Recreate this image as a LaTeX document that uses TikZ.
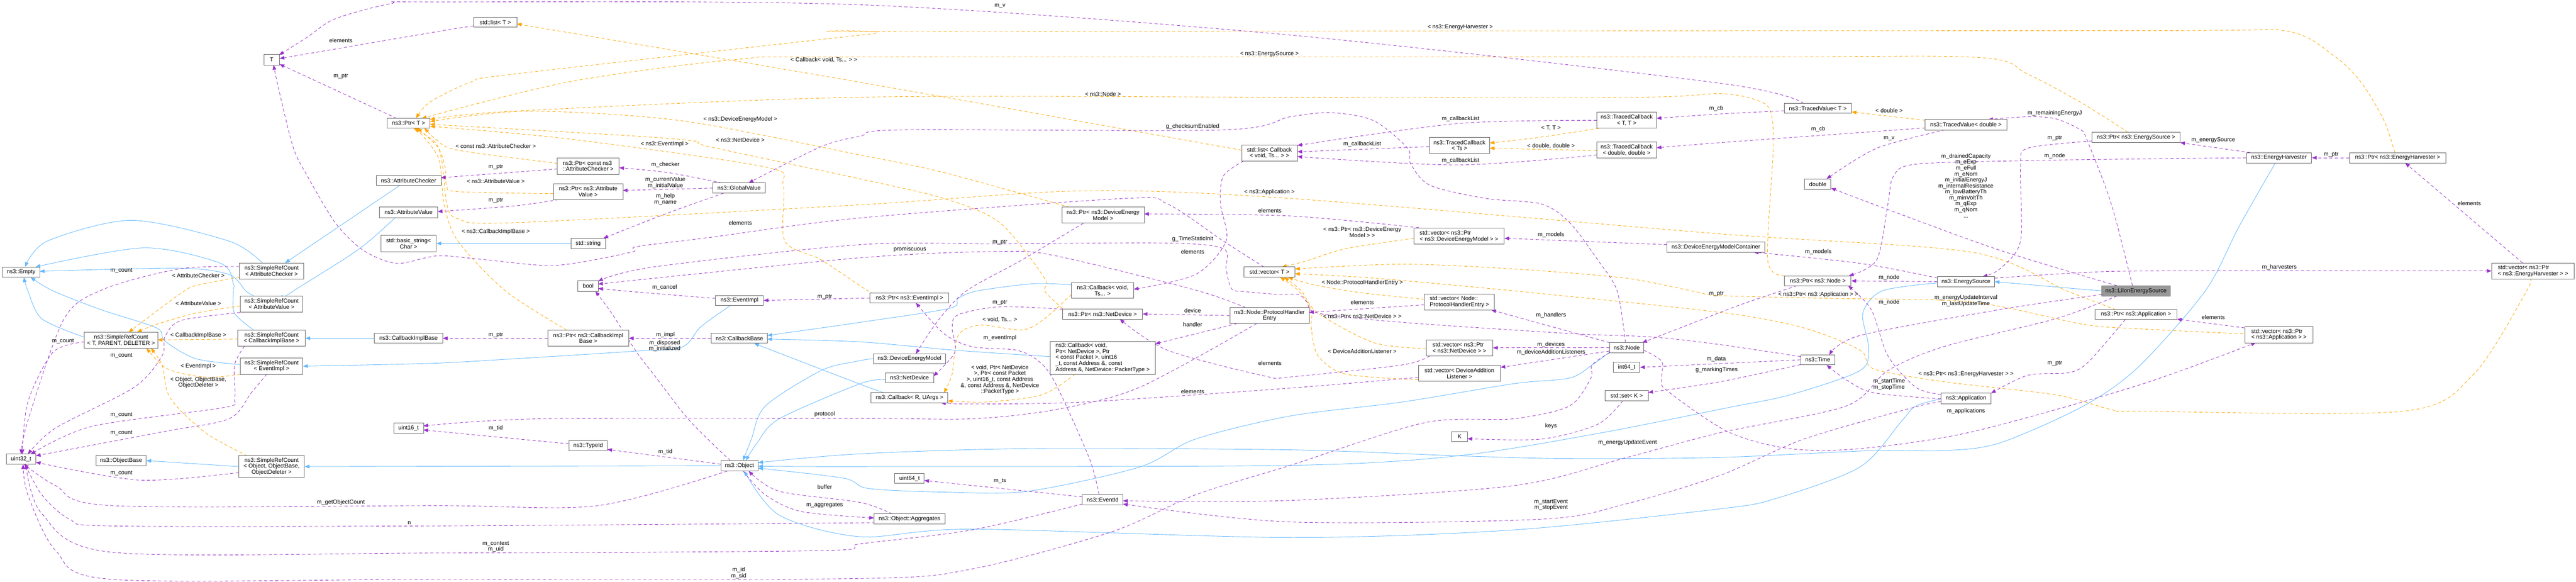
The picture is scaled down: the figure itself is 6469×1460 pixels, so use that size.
\documentclass[tikz,border=0pt]{standalone}
\usepackage{fontspec}
\setmainfont{Liberation Sans}
\usetikzlibrary{arrows.meta,calc}
\definecolor{inh}{HTML}{63B8FF}
\definecolor{usec}{HTML}{9A32CD}
\definecolor{tpl}{HTML}{FFA500}
\definecolor{bord}{HTML}{666666}
\definecolor{hl}{HTML}{999999}
\pgfdeclarelayer{bg}
\pgfsetlayers{bg,main}
\newcommand{\fs}{\fontsize{7.2}{7.5}\selectfont}
\tikzset{
 cls/.style={draw=bord, line width=0.6pt, fill=white, inner sep=0.5pt, font=\fs, align=center},
 lft/.style={align=left},
 inhE/.style={draw=inh, line width=0.55pt, -{Triangle[length=6pt,width=4.6pt]}},
 useE/.style={draw=usec, line width=0.55pt, dash pattern=on 4pt off 3pt, -{Triangle[length=6pt,width=4.6pt]}},
 tplE/.style={draw=tpl, line width=0.55pt, dash pattern=on 4pt off 3pt, -{Triangle[length=6pt,width=4.6pt]}},
 lbl/.style={font=\fs, align=center, inner sep=0pt},
}
\newcommand{\nd}[7][]{\node[cls,#1,minimum width=#5*0.5pt,minimum height=#6*0.5pt] (#2) at (#3,#4) {#7};}
\begin{document}
\begin{tikzpicture}[x=0.5pt,y=-0.5pt]
\useasboundingbox (0,0) rectangle (6469,1460);
\begin{pgfonlayer}{bg}
\fill[white] (0,0) rectangle (6469,1460);
\end{pgfonlayer}
% ---------------- nodes
\nd{nT}{682}{150}{39}{26}{T}
\nd{ptrT}{1026}{309}{108}{25}{ns3::Ptr< T >}
\nd{attrChecker}{1026}{453}{163}{25}{ns3::AttributeChecker}
\nd{attrValue}{1026}{533}{147}{26}{ns3::AttributeValue}
\nd{basicString}{1026}{611}{139}{41}{std::basic\_string<\\Char >}
\nd{srcAC}{682}{680}{162}{40}{ns3::SimpleRefCount\\< AttributeChecker >}
\nd{empty}{53}{683}{94}{25}{ns3::Empty}
\nd{srcAV}{682}{763}{157}{40}{ns3::SimpleRefCount\\< AttributeValue >}
\nd{srcTPD}{304}{854}{185}{40}{ns3::SimpleRefCount\\< T, PARENT, DELETER >}
\nd{srcCIB}{682}{849}{169}{40}{ns3::SimpleRefCount\\< CallbackImplBase >}
\nd{cib}{1026}{849}{171}{25}{ns3::CallbackImplBase}
\nd{srcEI}{682}{919}{157}{41}{ns3::SimpleRefCount\\< EventImpl >}
\nd{uint16}{1026}{1074}{75}{26}{uint16\_t}
\nd{uint32}{53}{1152}{75}{25}{uint32\_t}
\nd{objBase}{304}{1156}{126}{25}{ns3::ObjectBase}
\nd{srcObj}{682}{1171}{165}{55}{ns3::SimpleRefCount\\< Object, ObjectBase,\\ObjectDeleter >}
\nd{listT}{1244}{56}{109}{25}{std::list< T >}
\nd[lft]{ptrCAC}{1477}{417}{155}{41}{ns3::Ptr< const ns3\\::AttributeChecker >}
\nd{ptrAV}{1477}{481}{175}{40}{ns3::Ptr< ns3::Attribute\\Value >}
\nd{globalValue}{1856}{472}{131}{26}{ns3::GlobalValue}
\nd{stdString}{1477}{611}{87}{26}{std::string}
\nd{nBool}{1477}{718}{51}{26}{bool}
\nd{eventImpl}{1857}{754}{120}{25}{ns3::EventImpl}
\nd{ptrCIB}{1477}{849}{203}{40}{ns3::Ptr< ns3::CallbackImpl\\Base >}
\nd{callbackBase}{1857}{849}{141}{25}{ns3::CallbackBase}
\nd{typeId}{1477}{1118}{96}{26}{ns3::TypeId}
\nd{object}{1857}{1169}{94}{26}{ns3::Object}
\nd{listCB}{3188}{384}{140}{40}{std::list< Callback\\< void, Ts... > >}
\nd{ptrDEM}{2770}{540}{207}{40}{ns3::Ptr< ns3::DeviceEnergy\\Model >}
\nd{vecT}{3188}{683}{129}{26}{std::vector< T >}
\nd{cbVoidTs}{2769}{729}{156}{40}{ns3::Callback< void,\\Ts... >}
\nd{ptrEI}{2284}{748}{198}{25}{ns3::Ptr< ns3::EventImpl >}
\nd{ptrND}{2769}{788}{200}{26}{ns3::Ptr< ns3::NetDevice >}
\nd{phe}{3188}{792}{199}{40}{ns3::Node::ProtocolHandler\\Entry}
\nd[lft]{cbND}{2769}{898}{264}{83}{ns3::Callback< void,\\ Ptr< NetDevice >, Ptr\\< const Packet >, uint16\\\_t, const Address \&, const\\ Address \&, NetDevice::PacketType >}
\nd{dem}{2284}{900}{182}{25}{ns3::DeviceEnergyModel}
\nd{netDevice}{2284}{948}{121}{25}{ns3::NetDevice}
\nd{cbRU}{2284}{998}{193}{25}{ns3::Callback< R, UArgs >}
\nd{uint64}{2284}{1201}{74}{25}{uint64\_t}
\nd{eventId}{2769}{1254}{102}{26}{ns3::EventId}
\nd{aggregates}{2284}{1302}{178}{25}{ns3::Object::Aggregates}
\nd{tcTT}{4085}{302}{150}{40}{ns3::TracedCallback\\< T, T >}
\nd{tcTs}{3665}{365}{152}{40}{ns3::TracedCallback\\< Ts >}
\nd{tcDD}{4085}{377}{150}{40}{ns3::TracedCallback\\< double, double >}
\nd[lft]{vecPDEM}{3664}{593}{227}{40}{std::vector< ns3::Ptr\\< ns3::DeviceEnergyModel > >}
\nd{demContainer}{4309}{620}{246}{26}{ns3::DeviceEnergyModelContainer}
\nd[lft]{vecPHE}{3665}{758}{176}{40}{std::vector< Node::\\ProtocolHandlerEntry >}
\nd[lft]{vecPND}{3665}{873}{167}{40}{std::vector< ns3::Ptr\\< ns3::NetDevice > >}
\nd{vecDAL}{3665}{937}{206}{40}{std::vector< DeviceAddition\\Listener >}
\nd{nNode}{4085}{873}{86}{26}{ns3::Node}
\nd{int64}{4085}{922}{66}{26}{int64\_t}
\nd{setK}{4085}{993}{108}{26}{std::set< K >}
\nd{nK}{3665}{1096}{40}{25}{K}
\nd{tvT}{4565}{272}{169}{25}{ns3::TracedValue< T >}
\nd{tvD}{4937}{313}{205}{26}{ns3::TracedValue< double >}
\nd{nDouble}{4565}{462}{66}{26}{double}
\nd{ptrES}{5364}{345}{222}{26}{ns3::Ptr< ns3::EnergySource >}
\nd{ptrNode}{4565}{705}{167}{25}{ns3::Ptr< ns3::Node >}
\nd{energySource}{4937}{707}{143}{25}{ns3::EnergySource}
\nd[fill=hl]{liion}{5364}{730}{173}{26}{ns3::LiIonEnergySource}
\nd{nTime}{4565}{903}{86}{25}{ns3::Time}
\nd{application}{4937}{1000}{126}{26}{ns3::Application}
\nd{ptrApp}{5364}{789}{206}{25}{ns3::Ptr< ns3::Application >}
\nd{energyHarvester}{5723}{396}{164}{26}{ns3::EnergyHarvester}
\nd{ptrEH}{6021}{396}{242}{26}{ns3::Ptr< ns3::EnergyHarvester >}
\nd[lft]{vecPEH}{6361}{680}{207}{40}{std::vector< ns3::Ptr\\< ns3::EnergyHarvester > >}
\nd[lft]{vecPApp}{5723}{840}{171}{41}{std::vector< ns3::Ptr\\< ns3::Application > >}
% ---------------- edges
\begin{pgfonlayer}{bg}
% inheritance
\draw[inhE] plot[smooth] coordinates {($(srcAC)+(-23,-20)$) (575,605) (330,553) (119,605) ($(empty)+(10,-13)$)};
\draw[inhE] plot[smooth] coordinates {($(srcCIB)+(-44,-20)$) (589,786) (586,730) (586,712) (554,661) (361,622) ($(empty)+(36,-13)$)};
\draw[inhE] plot[smooth] coordinates {($(srcAV)+(-44,-20)$) (617,730) (575,689) (449,673) ($(empty)+(47,-2)$)};
\draw[inhE] plot[smooth] coordinates {($(srcTPD)+(-93,-8)$) (105,800) (70,730) ($(empty)+(7,13)$)};
\draw[inhE] plot[smooth] coordinates {($(srcEI)+(-79,-4)$) (491,900) (414,856) (393,823) (253,777) (133,730) ($(empty)+(24,13)$)};
\draw[inhE] plot[smooth] coordinates {($(attrChecker)+(-23,13)$) ($(srcAC)+(34,-20)$)};
\draw[inhE] plot[smooth] coordinates {($(attrValue)+(-33,13)$) (933,600) (877,642) (737,730) ($(srcAV)+(37,-20)$)};
\draw[inhE] (cib.west) -- (srcCIB.east);
\draw[inhE] plot[smooth] coordinates {($(eventImpl)+(-23,13)$) (1760,820) (1711,872) (1585,882) (1300,900) (1080,912) ($(srcEI)+(79,0)$)};
\draw[inhE] (object.west) -- (srcObj.east);
\draw[inhE] (stdString.west) -- (basicString.east);
\draw[inhE] (srcObj.west) -- (objBase.east);
\draw[inhE] plot[smooth] coordinates {($(cbRU)+(-61,-12)$) (2170,968) ($(callbackBase)+(37,13)$)};
\draw[inhE] plot[smooth] coordinates {($(cbND)+(-132,-3)$) (2398,879) (2160,858) ($(callbackBase)+(70,2)$)};
\draw[inhE] plot[smooth] coordinates {($(cbVoidTs)+(-78,-14)$) (2595,712) (2455,730) (2406,749) (2384,774) (2160,809) ($(callbackBase)+(70,-7)$)};
\draw[inhE] plot[smooth] coordinates {(dem.west) (2150,907) (2062,930) (1922,1019) (1887,1102) ($(object)+(9,-13)$)};
\draw[inhE] plot[smooth] coordinates {($(netDevice)+(-61,5)$) (2160,963) (1957,1051) (1901,1112) ($(object)+(16,-13)$)};
\draw[inhE] plot[smooth] coordinates {($(energyHarvester)+(-9,13)$) (5623,568) (5538,730) (5370,921) (5232,1019) (5021,1112) (4881,1131) (4699,1131) (4320,1148) (3941,1151) (3661,1144) (3240,1129) (2581,1126) (2160,1139) ($(object)+(47,-8)$)};
\draw[inhE] plot[smooth] coordinates {($(energySource)+(-71,3)$) (4727,730) (4678,786) (4692,870) (4671,930) (4495,991) (4340,1023) (4012,1088) (3661,1144) (3240,1168) (2160,1171) ($(object)+(47,1)$)};
\draw[inhE] plot[smooth] coordinates {($(nNode)+(-43,11)$) (3998,916) (3941,949) (3801,963) (3521,1009) (3240,1044) (3002,1102) (2862,1172) (2581,1233) (2370,1235) (2181,1226) (2118,1200) ($(object)+(47,6)$)};
\draw[inhE] plot[smooth] coordinates {($(application)+(-63,1)$) (4811,1019) (4776,1056) (4671,1172) (4460,1251) (4320,1277) (3801,1330) (3240,1349) (2441,1328) (2160,1347) (1957,1293) ($(object)+(12,13)$)};
\draw[inhE] (liion.west) -- (energySource.east);
% templates
\draw[tplE] plot[smooth] coordinates {($(srcAC)+(-81,15)$) (491,717) (456,735) (393,781) ($(srcTPD)+(19,-20)$)};
\draw[tplE] plot[smooth] coordinates {($(srcAV)+(-79,5)$) (491,786) (393,814) ($(srcTPD)+(40,-20)$)};
\draw[tplE] plot[smooth] coordinates {($(srcCIB)+(-84,2)$) ($(srcTPD)+(92,-1)$)};
\draw[tplE] plot[smooth] coordinates {($(srcEI)+(-78,20)$) (519,947) (421,926) ($(srcTPD)+(64,20)$)};
\draw[tplE] plot[smooth] coordinates {($(srcObj)+(-61,-27)$) (526,1093) (456,1033) (421,986) (407,916) ($(srcTPD)+(75,20)$)};
\draw[tplE] plot[smooth] coordinates {($(ptrCAC)+(-77,-7)$) (1150,377) (1095,350) ($(ptrT)+(40,12)$)};
\draw[tplE] plot[smooth] coordinates {($(ptrAV)+(-87,5)$) (1150,481) (1122,466) (1118,420) (1100,370) ($(ptrT)+(22,12)$)};
\draw[tplE] plot[smooth] coordinates {($(ptrCIB)+(-53,-20)$) (1269,730) (1150,605) (1115,512) (1101,396) ($(ptrT)+(17,12)$)};
\draw[tplE] plot[smooth] coordinates {($(ptrApp)+(-51,-12)$) (5190,730) (4951,633) (4320,587) (3240,498) (2721,479) (2160,514) (1290,559) (1150,549) (1122,512) (1112,419) (1095,360) ($(ptrT)+(12,12)$)};
\draw[tplE] plot[smooth] coordinates {($(ptrEI)+(-75,-12)$) (2180,730) (2062,652) (1971,605) (1967,465) (1922,419) (1431,349) ($(ptrT)+(54,8)$)};
\draw[tplE] plot[smooth] coordinates {($(ptrND)+(-100,-13)$) (2623,730) (2623,698) (2511,559) (2370,498) (2160,449) (1781,368) (1746,354) (1571,340) ($(ptrT)+(54,3)$)};
\draw[tplE] plot[smooth] coordinates {($(ptrDEM)+(-84,-20)$) (2370,433) (2160,389) (1711,303) (1326,279) ($(ptrT)+(54,-4)$)};
\draw[tplE] plot[smooth] coordinates {($(ptrNode)+(-84,-13)$) (4439,652) (4453,372) (4446,279) (4411,251) (4320,235) (4117,244) (3240,244) (2160,244) (1290,279) ($(ptrT)+(54,-9)$)};
\draw[tplE] plot[smooth] coordinates {($(ptrES)+(-20,-13)$) (5232,261) (5092,186) (4965,144) (4320,143) (2160,143) (1852,149) (1431,205) ($(ptrT)+(33,-12)$)};
\draw[tplE] plot[smooth] coordinates {($(ptrEH)+(-7,-13)$) (5987,303) (5931,209) (5861,140) (5735,77) (5370,77) (2265,79) (2180,86) (1290,186) (1185,205) (1080,256) ($(ptrT)+(19,-12)$)};
\draw[tplE] plot[smooth] coordinates {($(listCB)+(-70,-7)$) (2180,210) ($(listT)+(54,4)$)};
\draw[tplE] plot[smooth] coordinates {($(vecPDEM)+(-113,5)$) (3380,624) (3280,655) ($(vecT)+(31,-13)$)};
\draw[tplE] plot[smooth] coordinates {($(vecPHE)+(-88,-7)$) (3420,735) (3300,715) ($(vecT)+(47,13)$)};
\draw[tplE] plot[smooth] coordinates {($(vecPND)+(-83,2)$) (3450,860) (3310,786) (3268,730) ($(vecT)+(37,13)$)};
\draw[tplE] plot[smooth] coordinates {($(vecDAL)+(-103,16)$) (3380,939) (3310,893) (3293,823) (3293,777) (3261,730) ($(vecT)+(27,13)$)};
\draw[tplE] plot[smooth] coordinates {($(vecPApp)+(-90,-2)$) (5370,825) (5232,814) (4951,758) (4601,749) (4320,742) (4257,732) (4082,698) (3801,675) (3521,663) ($(vecT)+(64,-8)$)};
\draw[tplE] plot[smooth] coordinates {($(vecPEH)+(-9,20)$) (6345,730) (6212,939) (6036,1032) (5370,1032) (5302,1028) (5162,991) (4881,958) (4706,926) (4671,879) (4530,823) (4320,784) (3801,730) (3450,698) ($(vecT)+(64,4)$)};
\draw[tplE] plot[smooth] coordinates {($(cbND)+(-69,41)$) (2616,991) (2476,1009) ($(cbRU)+(96,8)$)};
\draw[tplE] plot[smooth] coordinates {($(cbVoidTs)+(-78,10)$) (2623,800) (2567,828) (2462,816) (2406,842) (2391,939) ($(cbRU)+(86,-12)$)};
\draw[tplE] plot[smooth] coordinates {($(tcTT)+(-70,20)$) (3871,344) ($(tcTs)+(76,-6)$)};
\draw[tplE] plot[smooth] coordinates {($(tcDD)+(-75,1)$) ($(tcTs)+(76,7)$)};
\draw[tplE] plot[smooth] coordinates {($(tvD)+(-102,-11)$) ($(tvT)+(85,9)$)};
% usage
\draw[useE] plot[smooth] coordinates {($(ptrT)+(-30,-12)$) ($(nT)+(20,11)$)};
\draw[useE] plot[smooth] coordinates {($(listT)+(-55,9)$) (1100,79) ($(nT)+(20,-3)$)};
\draw[useE] plot[smooth] coordinates {($(tvT)+(-35,-12)$) (4320,209) (3240,88) (2160,12) (1080,5) (982,9) (842,47) (772,93) ($(nT)+(19,-12)$)};
\draw[useE] plot[smooth] coordinates {($(vecT)+(-14,-13)$) (3072,605) (2932,512) (2826,498) (2160,547) (1782,596) (1599,619) (1585,633) (1396,666) (1220,652) (1100,642) (996,661) (912,628) (842,559) (772,442) (737,372) (702,233) ($(nT)+(5,13)$)};
\draw[useE] plot[smooth] coordinates {($(ptrCAC)+(-77,7)$) ($(attrChecker)+(81,-7)$)};
\draw[useE] plot[smooth] coordinates {($(ptrAV)+(-74,20)$) (1290,517) ($(attrValue)+(73,-2)$)};
\draw[useE] (ptrCIB.west) -- (cib.east);
\draw[useE] plot[smooth] coordinates {($(globalValue)+(-43,-13)$) (1676,433) ($(ptrCAC)+(78,4)$)};
\draw[useE] (globalValue.west) -- ($(ptrAV)+(87,-3)$);
\draw[useE] plot[smooth] coordinates {($(globalValue)+(-39,13)$) (1676,535) ($(stdString)+(38,-13)$)};
\draw[useE] plot[smooth] coordinates {($(eventImpl)+(-60,-5)$) (1600,733) ($(nBool)+(25,6)$)};
\draw[useE] plot[smooth] coordinates {($(object)+(-23,-13)$) (1732,1056) (1641,939) (1599,884) (1536,786) ($(nBool)+(18,13)$)};
\draw[useE] plot[smooth] coordinates {($(phe)+(-60,-20)$) (3002,728) (2651,642) (2511,631) (2160,647) ($(nBool)+(25,-5)$)};
\draw[useE] plot[smooth] coordinates {($(nTime)+(-43,-8)$) (4320,865) (4152,846) (3941,837) (3521,809) (3310,786) (3282,758) (3260,739) (3212,739) (3128,732) (3093,725) (3079,675) (3072,624) (2932,610) (2511,612) (2160,614) (1641,670) ($(nBool)+(25,-12)$)};
\draw[useE] (callbackBase.west) -- (ptrCIB.east);
\draw[useE] plot[smooth] coordinates {($(object)+(-47,-4)$) ($(typeId)+(48,10)$)};
\draw[useE] plot[smooth] coordinates {($(typeId)+(-48,-4)$) ($(uint16)+(37,5)$)};
\draw[useE] plot[smooth] coordinates {($(phe)+(-32,20)$) (2862,972) (2651,1028) (2441,1051) (2160,1050) (1361,1051) ($(uint16)+(37,-5)$)};
\draw[useE] plot[smooth] coordinates {($(object)+(-30,13)$) (1501,1269) (1100,1269) (281,1269) (140,1219) ($(uint32)+(7,13)$)};
\draw[useE] plot[smooth] coordinates {($(aggregates)+(-89,8)$) (2180,1312) (1080,1320) (281,1320) (175,1303) (105,1242) ($(uint32)+(10,13)$)};
\draw[useE] plot[smooth] coordinates {($(srcTPD)+(-92,4)$) (133,884) (70,1009) ($(uint32)+(3,-12)$)};
\draw[useE] plot[smooth] coordinates {($(srcAC)+(-81,-11)$) (449,675) (260,726) (161,800) (70,1056) ($(uint32)+(0,-12)$)};
\draw[useE] plot[smooth] coordinates {($(srcAV)+(-65,20)$) (456,804) (414,846) (407,893) (337,972) (140,1074) ($(uint32)+(17,-12)$)};
\draw[useE] plot[smooth] coordinates {($(srcCIB)+(-68,20)$) (589,916) (589,1000) (561,1023) (231,1070) ($(uint32)+(24,-12)$)};
\draw[useE] plot[smooth] coordinates {($(srcEI)+(-12,20)$) (631,986) (575,1051) (407,1084) ($(uint32)+(37,-8)$)};
\draw[useE] plot[smooth] coordinates {($(srcObj)+(-82,15)$) (351,1205) ($(uint32)+(37,8)$)};
\draw[useE] plot[smooth] coordinates {($(eventId)+(-51,11)$) (2441,1330) (2160,1365) (2062,1382) (1080,1388) (281,1386) (105,1289) ($(uint32)+(12,13)$)};
\draw[useE] plot[smooth] coordinates {($(nNode)+(-43,12)$) (3998,916) (3995,949) (3941,1019) (3801,1051) (3577,1061) (3240,1168) (3002,1242) (2791,1335) (2441,1428) (2160,1452) (1080,1454) (281,1454) (140,1382) (70,1242) ($(uint32)+(5,13)$)};
\draw[useE] plot[smooth] coordinates {($(aggregates)+(-43,-12)$) (2160,1261) (1957,1233) ($(object)+(23,13)$)};
\draw[useE] plot[smooth] coordinates {($(object)+(9,13)$) (1922,1242) (2013,1284) ($(aggregates)+(-89,-2)$)};
\draw[useE] plot[smooth] coordinates {($(eventId)+(-51,-7)$) ($(uint64)+(37,5)$)};
\draw[useE] plot[smooth] coordinates {($(eventId)+(-9,-13)$) (2735,1149) (2651,963) (2609,907) (2553,879) (2441,870) (2370,837) ($(ptrEI)+(16,12)$)};
\draw[useE] (ptrEI.west) -- (eventImpl.east);
\draw[useE] plot[smooth] coordinates {($(ptrDEM)+(-49,20)$) (2567,652) (2427,730) (2356,804) ($(dem)+(16,-12)$)};
\draw[useE] plot[smooth] coordinates {($(ptrND)+(-100,-12)$) (2511,770) (2406,790) (2391,823) (2398,884) ($(netDevice)+(60,-4)$)};
\draw[useE] (phe.west) -- (ptrND.east);
\draw[useE] plot[smooth] coordinates {($(phe)+(-81,20)$) ($(cbND)+(132,-35)$)};
\draw[useE] plot[smooth] coordinates {($(vecPND)+(-74,20)$) (3521,916) (3240,946) (3177,944) (2932,879) ($(ptrND)+(43,13)$)};
\draw[useE] plot[smooth] coordinates {($(vecDAL)+(-103,10)$) (3240,974) (2721,1009) (2441,1014) ($(cbRU)+(79,13)$)};
\draw[useE] plot[smooth] coordinates {($(vecPHE)+(-88,7)$) ($(phe)+(99,-8)$)};
\draw[useE] plot[smooth] coordinates {($(nNode)+(-43,-13)$) ($(vecPHE)+(80,20)$)};
\draw[useE] (nNode.west) -- (vecPND.east);
\draw[useE] plot[smooth] coordinates {($(nNode)+(-43,8)$) ($(vecDAL)+(103,-15)$)};
\draw[useE] plot[smooth] coordinates {($(nNode)+(-3,-13)$) (4061,730) (4012,652) (3942,559) (3871,512) (3731,498) (3591,465) (3542,410) (3535,372) (3450,303) (3345,283) (3240,293) (3072,326) (2265,326) (2160,342) (2062,368) ($(globalValue)+(24,-13)$)};
\draw[useE] plot[smooth] coordinates {($(nNode)+(43,6)$) (4173,907) (4173,953) (4187,981) (4340,1084) (4495,1126) (4671,1126) (4951,1084) (5370,967) ($(vecPApp)+(-58,20)$)};
\draw[useE] plot[smooth] coordinates {($(vecPApp)+(-86,-17)$) ($(ptrApp)+(103,12)$)};
\draw[useE] plot[smooth] coordinates {($(ptrApp)+(-27,13)$) (5246,907) (5197,935) (5092,942) ($(application)+(63,-13)$)};
\draw[useE] plot[smooth] coordinates {($(application)+(-63,-10)$) (4811,972) (4741,893) (4699,777) ($(ptrNode)+(76,12)$)};
\draw[useE] plot[smooth] coordinates {($(application)+(-63,1)$) (4706,986) (4636,953) ($(nTime)+(22,13)$)};
\draw[useE] plot[smooth] coordinates {($(application)+(-63,8)$) (4804,1023) (4530,1102) (4320,1193) (4082,1265) (3871,1303) (3240,1310) ($(eventId)+(51,11)$)};
\draw[useE] plot[smooth] coordinates {($(liion)+(-48,13)$) (5162,800) (4881,870) (4741,930) (4636,1019) (4320,1086) (4082,1149) (3801,1219) (3240,1256) ($(eventId)+(51,3)$)};
\draw[useE] plot[smooth] coordinates {($(liion)+(-86,9)$) (5022,777) (4671,842) ($(nTime)+(29,-12)$)};
\draw[useE] (nTime.west) -- (int64.east);
\draw[useE] plot[smooth] coordinates {($(nTime)+(-43,12)$) (4320,958) ($(setK)+(54,-8)$)};
\draw[useE] plot[smooth] coordinates {($(setK)+(-10,13)$) (4012,1065) (3871,1102) ($(nK)+(20,5)$)};
\draw[useE] plot[smooth] coordinates {($(demContainer)+(-123,-6)$) ($(vecPDEM)+(114,5)$)};
\draw[useE] plot[smooth] coordinates {($(energySource)+(-71,-9)$) (4671,661) ($(demContainer)+(95,13)$)};
\draw[useE] (energySource.west) -- (ptrNode.east);
\draw[useE] plot[smooth] coordinates {($(energySource)+(72,-9)$) (5232,684) (5420,680) (vecPEH.west)};
\draw[useE] plot[smooth] coordinates {($(liion)+(-9,-13)$) (5302,512) (5240,349) (5225,326) (5162,298) (5092,293) ($(tvD)+(56,-13)$)};
\draw[useE] plot[smooth] coordinates {($(liion)+(-48,-13)$) (5022,628) (4741,526) ($(nDouble)+(33,10)$)};
\draw[useE] plot[smooth] coordinates {($(ptrES)+(-111,9)$) (5092,372) (5074,419) (5074,605) (5022,675) ($(energySource)+(42,-13)$)};
\draw[useE] plot[smooth] coordinates {($(energyHarvester)+(-72,-13)$) ($(ptrES)+(111,13)$)};
\draw[useE] plot[smooth] coordinates {(energyHarvester.west) (5370,399) (5092,403) (4811,412) (4755,442) (4741,512) (4713,652) ($(ptrNode)+(78,-13)$)};
\draw[useE] (ptrEH.west) -- (energyHarvester.east);
\draw[useE] plot[smooth] coordinates {($(vecPEH)+(-26,-20)$) ($(ptrEH)+(19,13)$)};
\draw[useE] plot[smooth] coordinates {($(tvT)+(-84,6)$) (4320,286) ($(tcTT)+(75,-5)$)};
\draw[useE] plot[smooth] coordinates {($(tvD)+(-102,8)$) (4320,358) ($(tcDD)+(75,-6)$)};
\draw[useE] plot[smooth] coordinates {($(tvD)+(-52,13)$) (4713,372) ($(nDouble)+(22,-13)$)};
\draw[useE] plot[smooth] coordinates {($(tcTs)+(-76,3)$) ($(listCB)+(70,-3)$)};
\draw[useE] plot[smooth] coordinates {($(tcTT)+(-75,0)$) (3661,310) ($(listCB)+(70,-19)$)};
\draw[useE] plot[smooth] coordinates {($(tcDD)+(-75,12)$) (3661,414) ($(listCB)+(70,9)$)};
\draw[useE] plot[smooth] coordinates {($(listCB)+(-65,20)$) (3072,442) (3065,512) (3079,605) (3002,689) ($(cbVoidTs)+(78,-3)$)};
\draw[useE] plot[smooth] coordinates {($(vecPDEM)+(-87,-20)$) (3240,542) ($(ptrDEM)+(103,-3)$)};
\draw[useE] plot[smooth] coordinates {($(ptrNode)+(-52,12)$) (4390,758) (4320,784) ($(nNode)+(39,-13)$)};
\end{pgfonlayer}
% ---------------- labels
\node[lbl] (lb1) at (498,691) {< AttributeChecker >};
\node[lbl] (lb2) at (498,762) {< AttributeValue >};
\node[lbl] (lb3) at (498,842) {< CallbackImplBase >};
\node[lbl] (lb4) at (498,919) {< EventImpl >};
\node[lbl] (lb5) at (498,960) {< Object, ObjectBase,\\ObjectDeleter >};
\node[lbl] (lb6) at (158,856) {m\_count};
\node[lbl] (lb7) at (305,679) {m\_count};
\node[lbl] (lb8) at (305,893) {m\_count};
\node[lbl] (lb9) at (305,1041) {m\_count};
\node[lbl] (lb10) at (305,1087) {m\_count};
\node[lbl] (lb11) at (305,1188) {m\_count};
\node[lbl] (lb12) at (856,1261) {m\_getObjectCount};
\node[lbl] (lb13) at (1028,1313) {n};
\node[lbl] (lb14) at (856,102) {elements};
\node[lbl] (lb15) at (856,192) {m\_ptr};
\node[lbl] (lb16) at (1245,367) {< const ns3::AttributeChecker >};
\node[lbl] (lb17) at (1245,419) {m\_ptr};
\node[lbl] (lb18) at (1245,455) {< ns3::AttributeValue >};
\node[lbl] (lb19) at (1245,504) {m\_ptr};
\node[lbl] (lb20) at (1245,582) {< ns3::CallbackImplBase >};
\node[lbl] (lb21) at (1245,841) {m\_ptr};
\node[lbl] (lb22) at (1245,1075) {m\_tid};
\node[lbl] (lb23) at (1245,1372) {m\_context\\m\_uid};
\node[lbl] (lb24) at (2069,150) {< Callback< void, Ts... > >};
\node[lbl] (lb25) at (1859,300) {< ns3::DeviceEnergyModel >};
\node[lbl] (lb26) at (1859,351) {< ns3::NetDevice >};
\node[lbl] (lb27) at (1669,362) {< ns3::EventImpl >};
\node[lbl] (lb28) at (1671,414) {m\_checker};
\node[lbl] (lb29) at (1671,459) {m\_currentValue\\m\_initialValue};
\node[lbl] (lb30) at (1671,500) {m\_help\\m\_name};
\node[lbl] (lb31) at (1859,560) {elements};
\node[lbl] (lb32) at (1669,722) {m\_cancel};
\node[lbl] (lb33) at (1671,841) {m\_impl};
\node[lbl] (lb34) at (1669,868) {m\_disposed\\m\_initialized};
\node[lbl] (lb35) at (1671,1134) {m\_tid};
\node[lbl] (lb36) at (2071,745) {m\_ptr};
\node[lbl] (lb37) at (2071,1040) {protocol};
\node[lbl] (lb38) at (2071,1222) {buffer};
\node[lbl] (lb39) at (2071,1268) {m\_aggregates};
\node[lbl] (lb40) at (1855,1438) {m\_id\\m\_sid};
\node[lbl] (lb41) at (2511,15) {m\_v};
\node[lbl] (lb42) at (3188,135) {< ns3::EnergySource >};
\node[lbl] (lb43) at (2770,236) {< ns3::Node >};
\node[lbl] (lb44) at (2995,318) {g\_checksumEnabled};
\node[lbl] (lb45) at (3188,482) {< ns3::Application >};
\node[lbl] (lb46) at (3189,528) {elements};
\node[lbl] (lb47) at (2511,608) {m\_ptr};
\node[lbl] (lb48) at (2995,600) {g\_TimeStaticInit};
\node[lbl] (lb49) at (2285,626) {promiscuous};
\node[lbl] (lb50) at (2995,632) {elements};
\node[lbl] (lb51) at (2511,759) {m\_ptr};
\node[lbl] (lb52) at (2995,780) {device};
\node[lbl] (lb53) at (2511,802) {< void, Ts... >};
\node[lbl] (lb54) at (2995,814) {handler};
\node[lbl] (lb55) at (2511,848) {m\_eventImpl};
\node[lbl] (lb56) at (3189,912) {elements};
\node[lbl] (lb57) at (2511,953) {< void, Ptr< NetDevice\\>, Ptr< const Packet\\>, uint16\_t, const Address\\\&, const Address \&, NetDevice\\::PacketType >};
\node[lbl] (lb58) at (2995,983) {elements};
\node[lbl] (lb59) at (2511,1207) {m\_ts};
\node[lbl] (lb60) at (3667,68) {< ns3::EnergyHarvester >};
\node[lbl] (lb61) at (3668,298) {m\_callbackList};
\node[lbl] (lb62) at (3895,322) {< T, T >};
\node[lbl] (lb63) at (3421,362) {m\_callbackList};
\node[lbl] (lb64) at (3895,367) {< double, double >};
\node[lbl] (lb65) at (3668,403) {m\_callbackList};
\node[lbl] (lb66) at (3421,583) {< ns3::Ptr< ns3::DeviceEnergy\\Model > >};
\node[lbl] (lb67) at (3895,590) {m\_models};
\node[lbl] (lb68) at (3421,710) {< Node::ProtocolHandlerEntry >};
\node[lbl] (lb69) at (3421,759) {elements};
\node[lbl] (lb70) at (3895,791) {m\_handlers};
\node[lbl] (lb71) at (3421,794) {< ns3::Ptr< ns3::NetDevice > >};
\node[lbl] (lb72) at (3895,865) {m\_devices};
\node[lbl] (lb73) at (3421,882) {< DeviceAdditionListener >};
\node[lbl] (lb74) at (3895,885) {m\_deviceAdditionListeners};
\node[lbl] (lb75) at (3895,1070) {keys};
\node[lbl] (lb76) at (4087,1111) {m\_energyUpdateEvent};
\node[lbl] (lb77) at (3895,1267) {m\_startEvent\\m\_stopEvent};
\node[lbl] (lb78) at (4310,738) {m\_ptr};
\node[lbl] (lb79) at (4310,901) {m\_data};
\node[lbl] (lb80) at (4311,929) {g\_markingTimes};
\node[lbl] (lb81) at (4310,272) {m\_cb};
\node[lbl] (lb82) at (4744,278) {< double >};
\node[lbl] (lb83) at (4566,324) {m\_cb};
\node[lbl] (lb84) at (4744,348) {m\_v};
\node[lbl] (lb85) at (4937,466) {m\_drainedCapacity\\m\_eExp\\m\_eFull\\m\_eNom\\m\_initialEnergyJ\\m\_internalResistance\\m\_lowBatteryTh\\m\_minVoltTh\\m\_qExp\\m\_qNom\\...};
\node[lbl] (lb86) at (5160,284) {m\_remainingEnergyJ};
\node[lbl] (lb87) at (5160,347) {m\_ptr};
\node[lbl] (lb88) at (5160,391) {m\_node};
\node[lbl] (lb89) at (4566,632) {m\_models};
\node[lbl] (lb90) at (4744,697) {m\_node};
\node[lbl] (lb91) at (4566,739) {< ns3::Ptr< ns3::Application > >};
\node[lbl] (lb92) at (4937,755) {m\_energyUpdateInterval\\m\_lastUpdateTime};
\node[lbl] (lb93) at (4744,759) {m\_node};
\node[lbl] (lb94) at (5160,912) {m\_ptr};
\node[lbl] (lb95) at (4937,939) {< ns3::Ptr< ns3::EnergyHarvester > >};
\node[lbl] (lb96) at (4744,965) {m\_startTime\\m\_stopTime};
\node[lbl] (lb97) at (4937,1032) {m\_applications};
\node[lbl] (lb98) at (5558,352) {m\_energySource};
\node[lbl] (lb99) at (5854,388) {m\_ptr};
\node[lbl] (lb100) at (6201,511) {elements};
\node[lbl] (lb101) at (5724,671) {m\_harvesters};
\node[lbl] (lb102) at (5558,797) {elements};
\end{tikzpicture}
\end{document}
